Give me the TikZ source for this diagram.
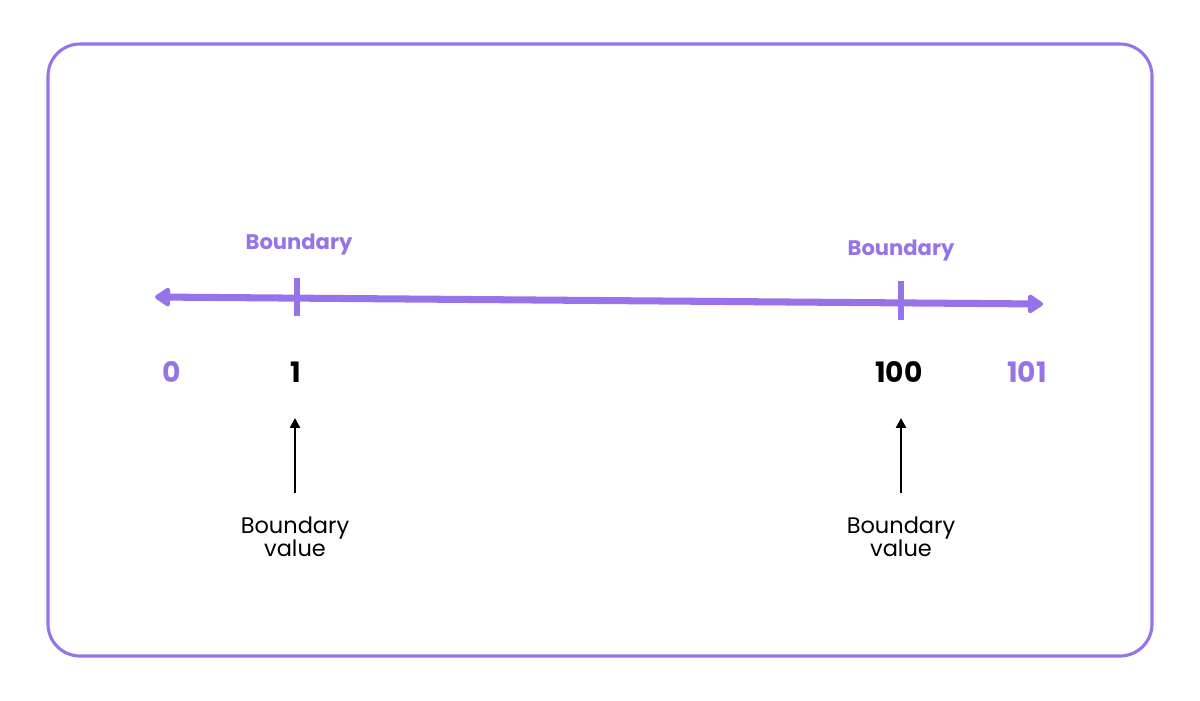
\documentclass[tikz,border=0pt]{standalone}
\usepackage{fontspec}
\setmainfont{Poppins}
\usetikzlibrary{positioning,arrows.meta}
\definecolor{lilac}{HTML}{9673E8}

\begin{document}
\begin{tikzpicture}[x=0.025cm,y=-0.025cm,
    bndlabel/.style={text=lilac, font=\fontsize{15}{18}\selectfont\bfseries},
    numlabel/.style={font=\fontsize{20}{24}\selectfont\bfseries},
    notelabel/.style={align=center, font=\fontsize{16}{19}\selectfont},
    tickmark/.style={draw=lilac, line width=4pt},
    ]
    \useasboundingbox (0,0) rectangle (1200,700);
    \draw[lilac, line width=2.2pt, rounded corners=0.8cm] (48,44) rectangle (1152,656);
    %Coordinates
    \coordinate (lend) at (155,297);
    \coordinate (rend) at (1043,304);
    %Nodes
    \node[bndlabel] (blo) at (299,244) {Boundary};
    \node[bndlabel] (bhi) at (901,250) {Boundary};
    \node[numlabel, text=lilac] (zero) at (172,372) {0};
    \node[numlabel] (one) at (296,372) {1};
    \node[numlabel] (hund) at (899,372) {100};
    \node[numlabel, text=lilac] (hundone) at (1027,372) {101};
    \node[notelabel] (vlo) at (295,537) {Boundary\\[-3pt]value};
    \node[notelabel] (vhi) at (901,537) {Boundary\\[-3pt]value};
    %Lines
    \draw[lilac, line width=5pt, {Triangle[round,length=12pt,width=15pt]}-{Triangle[round,length=12pt,width=15pt]}] (lend) -- (rend);
    \draw[tickmark] (297,278) -- (297,316);
    \draw[tickmark] (901,281) -- (901,320);
    \draw[line width=2pt, -{Triangle[length=7pt,width=7pt]}] (vlo.north |- 0,493) -- (vlo.north |- 0,418);
    \draw[line width=2pt, -{Triangle[length=7pt,width=7pt]}] (vhi.north |- 0,493) -- (vhi.north |- 0,418);
\end{tikzpicture}
\end{document}
